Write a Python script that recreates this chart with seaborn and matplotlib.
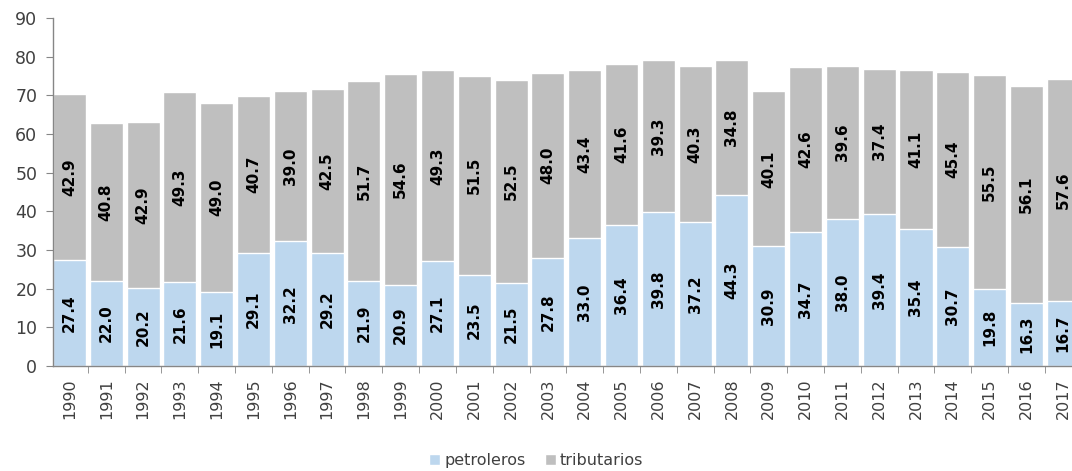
import matplotlib
matplotlib.use("Agg")
import matplotlib.pyplot as plt
import seaborn as sns
import pandas as pd
import numpy as np
from matplotlib.patches import Patch
from matplotlib.ticker import MultipleLocator, FixedLocator

years = [str(y) for y in range(1990, 2018)]
petroleros = [27.4, 22.0, 20.2, 21.6, 19.1, 29.1, 32.2, 29.2, 21.9, 20.9, 27.1, 23.5, 21.5, 27.8,
              33.0, 36.4, 39.8, 37.2, 44.3, 30.9, 34.7, 38.0, 39.4, 35.4, 30.7, 19.8, 16.3, 16.7]
tributarios = [42.9, 40.8, 42.9, 49.3, 49.0, 40.7, 39.0, 42.5, 51.7, 54.6, 49.3, 51.5, 52.5, 48.0,
               43.4, 41.6, 39.3, 40.3, 34.8, 40.1, 42.6, 39.6, 37.4, 41.1, 45.4, 55.5, 56.1, 57.6]

c_pet = "#BDD7EE"
c_trib = "#BFBFBF"

df = pd.DataFrame({"year": years, "petroleros": petroleros, "tributarios": tributarios})
df["total"] = df["petroleros"] + df["tributarios"]

sns.set_style("white")
fig = plt.figure(figsize=(10.72, 4.71), dpi=100)
ax = fig.add_axes([0.049, 0.223, 0.951, 0.739])

sns.barplot(data=df, x="year", y="total", color=c_trib, width=0.9, saturation=1, ax=ax)
sns.barplot(data=df, x="year", y="petroleros", color=c_pet, width=0.9, saturation=1, ax=ax)

for i, (p, t) in enumerate(zip(petroleros, tributarios)):
    ax.text(i, p / 2, f"{p:.1f}", rotation=90, ha="center", va="center",
            fontsize=11, fontweight="bold", color="black")
    ax.text(i, p + t / 2, f"{t:.1f}", rotation=90, ha="center", va="center",
            fontsize=11, fontweight="bold", color="black")

ax.set_xlim(-0.46, 27.24)
ax.set_ylim(0, 90)
ax.yaxis.set_major_locator(MultipleLocator(10))
ax.set_xlabel("")
ax.set_ylabel("")

for s in ["top", "right"]:
    ax.spines[s].set_visible(False)
for s in ["left", "bottom"]:
    ax.spines[s].set_color("#868686")
    ax.spines[s].set_linewidth(1)

ax.xaxis.set_minor_locator(FixedLocator(np.arange(-0.5, 28, 1)))
ax.tick_params(axis="x", which="major", length=0, pad=9, labelsize=11.5, labelcolor="#404040", rotation=90)
ax.tick_params(axis="x", which="minor", length=5, color="#868686", bottom=True)
ax.tick_params(axis="y", which="major", length=5, color="#868686", left=True, labelsize=12.5,
               labelcolor="#404040", pad=6)

handles = [Patch(facecolor=c_pet, label="petroleros"), Patch(facecolor=c_trib, label="tributarios")]
fig.legend(handles=handles, loc="center", bbox_to_anchor=(0.5, 0.022), ncol=2, frameon=False,
           fontsize=11.5, handlelength=0.7, handleheight=0.7, handletextpad=0.25, columnspacing=1.2,
           labelcolor="#404040")

fig.savefig("out.png", dpi=100)
